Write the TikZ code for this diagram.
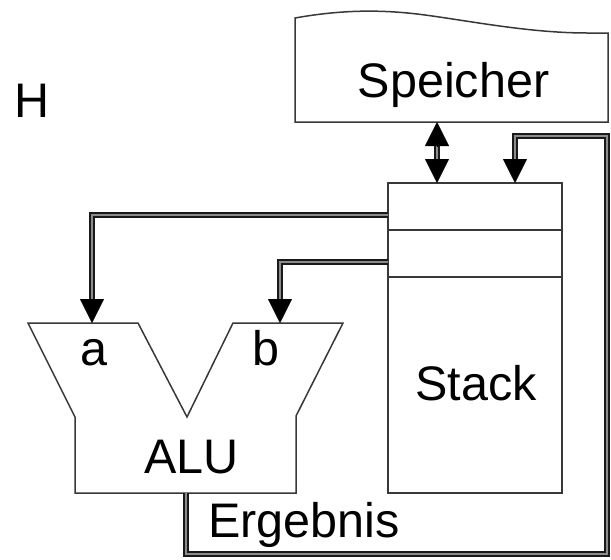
\documentclass[tikz,border=0pt]{standalone}
\usepackage{fontspec}
\setmainfont{Liberation Sans}
\usetikzlibrary{arrows.meta,calc}
\begin{document}
\begin{tikzpicture}[x=1pt,y=-1pt,
  outline/.style={draw=black!78,line width=1.5pt,line join=miter},
  cellbox/.style={outline,rectangle,inner sep=0pt,minimum width=174pt},
  lbl/.style={font=\fontsize{48.5}{58}\selectfont,inner sep=0pt,anchor=base,text=black},
  dbl/.style={draw=black!90,line width=1.8pt,double=black!45,double distance=2.2pt,line join=miter},
  tipst/.style={line width=0.1pt,-{Triangle[width=24pt,length=24pt]},black}]
\useasboundingbox (0,0) rectangle (611,560);
% Speicher (document shape)
\draw[outline] (295,122) -- (295,18) .. controls (340,10) and (380,9) .. (425,15)
  .. controls (470,21) and (530,33) .. (587,33) -- (608,33) -- (608,122) -- cycle;
\node[lbl] (sp) at (453.5,97) {Speicher};
\coordinate (spb) at (437,122);
\coordinate (spt) at (437,183);
% H
\node[lbl] (h) at (32.5,117) {H};
% Stack
\node[cellbox,minimum height=47pt] (c1) at (475,206.5) {};
\node[cellbox,minimum height=47pt] (c2) at (475,253.5) {};
\node[cellbox,minimum height=216pt] (st) at (475,385) {};
\node[lbl] (stl) at (476,400) {Stack};
% ALU
\draw[outline] (28,323) -- (138,323) -- (187,417) -- (233,323) -- (343,323) -- (296,416)
  -- (296,493) -- (75,493) -- (75,417) -- cycle;
\node[lbl] (alu) at (191.5,473) {ALU};
\node[lbl] (la) at (93.5,365) {a};
\node[lbl] (lb) at (265.5,365) {b};
\node[lbl] (erg) at (304,537) {Ergebnis};
% connection points
\coordinate (aout) at (388,215);
\coordinate (ain) at (92,323);
\coordinate (bout) at (388,262);
\coordinate (bin) at (280,323);
\coordinate (aluout) at (186,493);
\coordinate (fb1) at (186,554);
\coordinate (fb2) at (607,554);
\coordinate (fb3) at (607,136);
\coordinate (stin) at (515,183);
% Speicher <-> Stack
\draw[dbl] ($(spb)+(0,23)$) -- ($(spt)+(0,-23)$);
\draw[tipst] ($(spb)+(0,24)$) -- (spb);
\draw[tipst] ($(spt)+(0,-24)$) -- (spt);
% Stack -> a
\draw[dbl] (aout) -| ($(ain)+(0,-23)$);
\draw[tipst] ($(ain)+(0,-24)$) -- (ain);
% Stack -> b
\draw[dbl] (bout) -| ($(bin)+(0,-23)$);
\draw[tipst] ($(bin)+(0,-24)$) -- (bin);
% Ergebnis feedback
\draw[dbl] (aluout) -- (fb1) -- (fb2) -- (fb3) -| ($(stin)+(0,-23)$);
\draw[tipst] ($(stin)+(0,-24)$) -- (stin);
\end{tikzpicture}
\end{document}
